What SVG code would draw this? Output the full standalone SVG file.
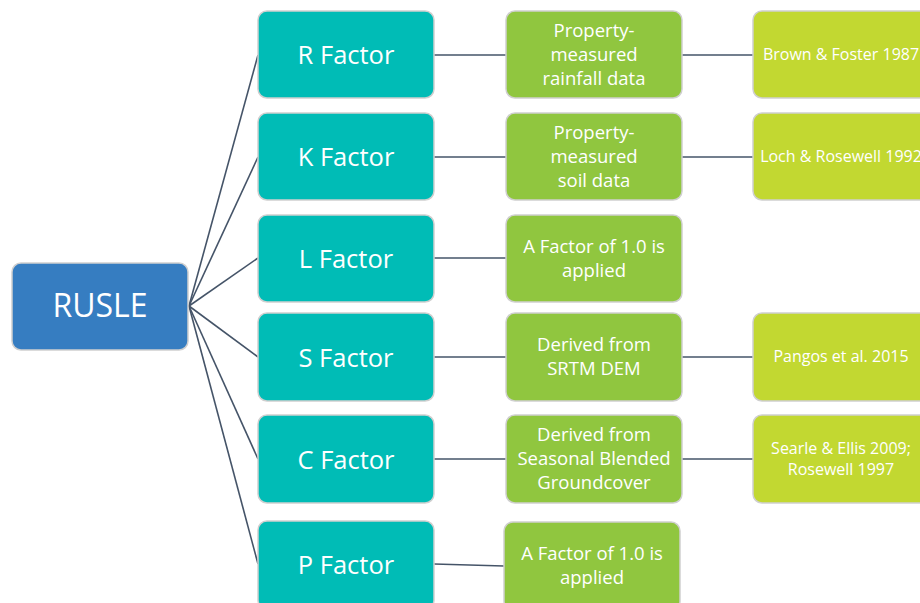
<svg xmlns="http://www.w3.org/2000/svg" width="920" height="603" viewBox="0 0 920 603">
<style>
.box{stroke:#cfcfcf;stroke-width:1.5}
.root{fill:#367dc1}
.fac{fill:#00bcb6}
.src{fill:#90c63f}
.ref{fill:#c2d831}
text{font-family:"Open Sans","Noto Sans","Liberation Sans",sans-serif;fill:#ffffff;text-anchor:middle}
.t1{font-size:32px}
.t2{font-size:25.5px}
.t3{font-size:18.5px}
.t4{font-size:16px}
.ln{stroke:#455468;stroke-width:1.6;fill:none}
</style>
<rect width="920" height="603" fill="#ffffff"/>
<g id="connectors">
<line class="ln" x1="189" y1="306" x2="258" y2="55"/>
<line class="ln" x1="189" y1="306" x2="258" y2="157"/>
<line class="ln" x1="189" y1="306" x2="258" y2="258"/>
<line class="ln" x1="189" y1="306" x2="258" y2="357"/>
<line class="ln" x1="189" y1="306" x2="258" y2="459"/>
<line class="ln" x1="189" y1="306" x2="258" y2="564"/>
<line class="ln" x1="434" y1="55" x2="506" y2="55"/>
<line class="ln" x1="434" y1="157" x2="506" y2="157"/>
<line class="ln" x1="434" y1="258" x2="506" y2="258"/>
<line class="ln" x1="434" y1="357" x2="506" y2="357"/>
<line class="ln" x1="434" y1="459" x2="506" y2="459"/>
<line class="ln" x1="434" y1="564" x2="504" y2="566"/>
<line class="ln" x1="682" y1="55" x2="753" y2="55"/>
<line class="ln" x1="682" y1="157" x2="753" y2="157"/>
<line class="ln" x1="682" y1="357" x2="753" y2="357"/>
<line class="ln" x1="682" y1="459" x2="753" y2="459"/>
</g>
<g id="rusle">
<rect class="box root" x="12" y="263" width="176" height="87" rx="9"/>
<text class="t1" x="100" y="317">RUSLE</text>
</g>
<g id="r-factor">
<rect class="box fac" x="258" y="11" width="176" height="87" rx="9"/>
<text class="t2" x="346" y="64">R Factor</text>
</g>
<g id="k-factor">
<rect class="box fac" x="258" y="113" width="176" height="87" rx="9"/>
<text class="t2" x="346" y="166">K Factor</text>
</g>
<g id="l-factor">
<rect class="box fac" x="258" y="215" width="176" height="87" rx="9"/>
<text class="t2" x="346" y="268">L Factor</text>
</g>
<g id="s-factor">
<rect class="box fac" x="258" y="313" width="176" height="88" rx="9"/>
<text class="t2" x="346" y="367">S Factor</text>
</g>
<g id="c-factor">
<rect class="box fac" x="258" y="415" width="176" height="88" rx="9"/>
<text class="t2" x="346" y="469">C Factor</text>
</g>
<g id="p-factor">
<rect class="box fac" x="258" y="521" width="176" height="88" rx="9"/>
<text class="t2" x="346" y="574">P Factor</text>
</g>
<g id="r-data">
<rect class="box src" x="506" y="11" width="176" height="87" rx="9"/>
<text class="t3" x="594" y="37">Property-</text>
<text class="t3" x="594" y="61">measured</text>
<text class="t3" x="594" y="85">rainfall data</text>
</g>
<g id="k-data">
<rect class="box src" x="506" y="113" width="176" height="87" rx="9"/>
<text class="t3" x="594" y="139">Property-</text>
<text class="t3" x="594" y="163">measured</text>
<text class="t3" x="594" y="187">soil data</text>
</g>
<g id="l-data">
<rect class="box src" x="506" y="215" width="176" height="87" rx="9"/>
<text class="t3" x="594" y="253">A Factor of 1.0 is</text>
<text class="t3" x="594" y="277">applied</text>
</g>
<g id="s-data">
<rect class="box src" x="506" y="313" width="176" height="88" rx="9"/>
<text class="t3" x="594" y="351">Derived from</text>
<text class="t3" x="594" y="375">SRTM DEM</text>
</g>
<g id="c-data">
<rect class="box src" x="506" y="415" width="176" height="88" rx="9"/>
<text class="t3" x="594" y="441">Derived from</text>
<text class="t3" x="594" y="465">Seasonal Blended</text>
<text class="t3" x="594" y="489">Groundcover</text>
</g>
<g id="p-data">
<rect class="box src" x="504" y="522" width="176" height="88" rx="9"/>
<text class="t3" x="592" y="560">A Factor of 1.0 is</text>
<text class="t3" x="592" y="584">applied</text>
</g>
<g id="r-ref">
<rect class="box ref" x="753" y="11" width="176" height="87" rx="9"/>
<text class="t4" x="841" y="60">Brown &amp; Foster 1987</text>
</g>
<g id="k-ref">
<rect class="box ref" x="753" y="113" width="176" height="87" rx="9"/>
<text class="t4" x="841" y="162">Loch &amp; Rosewell 1992</text>
</g>
<g id="s-ref">
<rect class="box ref" x="753" y="313" width="176" height="88" rx="9"/>
<text class="t4" x="841" y="362">Pangos et al. 2015</text>
</g>
<g id="c-ref">
<rect class="box ref" x="753" y="415" width="176" height="88" rx="9"/>
<text class="t4" x="841" y="454">Searle &amp; Ellis 2009;</text>
<text class="t4" x="841" y="475">Rosewell 1997</text>
</g>
</svg>
